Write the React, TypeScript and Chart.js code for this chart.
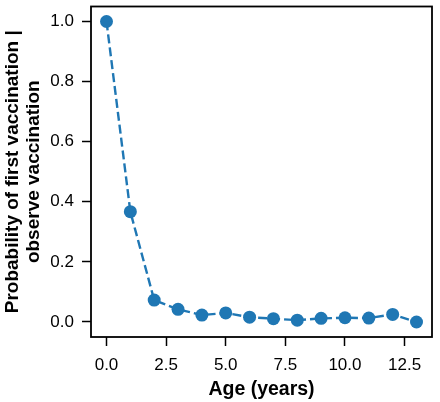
import React, { useEffect, useRef } from "react";
import { Chart, registerables } from "chart.js";

Chart.register(...registerables);

const ages = [0, 1, 2, 3, 4, 5, 6, 7, 8, 9, 10, 11, 12, 13];
const probabilities = [1.0, 0.367, 0.073, 0.042, 0.023, 0.03, 0.016, 0.011, 0.006, 0.012, 0.014, 0.013, 0.025, 0.0];
const xTicks = [0, 2.5, 5, 7.5, 10, 12.5];
const yTicks = [0, 0.2, 0.4, 0.6, 0.8, 1.0];
const xTitle = "Age (years)";
const yTitle = ["Probability of first vaccination |", "observe vaccination"];

const BLUE = "#1f77b4";
const FONT = "'Liberation Sans', Arial, sans-serif";

const framePlugin = {
  id: "frame",
  afterDatasetsDraw(chart: any) {
    const { ctx, chartArea } = chart;
    ctx.save();
    ctx.strokeStyle = "#000";
    ctx.lineWidth = 1.8;
    ctx.strokeRect(chartArea.left, chartArea.top, chartArea.right - chartArea.left, chartArea.bottom - chartArea.top);
    ctx.restore();
  },
};

export default function App() {
  const ref = useRef<HTMLCanvasElement | null>(null);
  useEffect(() => {
    if (!ref.current) return;
    const chart = new Chart(ref.current, {
      type: "scatter",
      data: {
        datasets: [
          {
            data: ages.map((a, i) => ({ x: a, y: probabilities[i] })),
            showLine: true,
            borderColor: BLUE,
            backgroundColor: BLUE,
            borderWidth: 2.4,
            borderDash: [9, 4],
            pointRadius: 6.5,
            pointHoverRadius: 6.5,
            pointBorderWidth: 0,
            clip: false as any,
          },
        ],
      },
      options: {
        animation: false,
        responsive: false,
        maintainAspectRatio: false,
        layout: { padding: { top: 2, right: 8, left: 0, bottom: 0 } },
        plugins: { legend: { display: false }, tooltip: { enabled: false } },
        scales: {
          x: {
            type: "linear",
            min: -0.65,
            max: 13.65,
            afterBuildTicks: (s: any) => {
              s.ticks = xTicks.map((v) => ({ value: v }));
            },
            afterFit: (s: any) => {
              s.height = 65;
              s.paddingLeft = 0;
              s.paddingRight = 0;
            },
            grid: { drawOnChartArea: false, tickLength: 9, tickWidth: 1.5, tickColor: "#000" },
            border: { display: false },
            ticks: {
              color: "#000",
              font: { family: FONT, size: 17 },
              padding: 9,
              maxRotation: 0,
              callback: (v: any) => Number(v).toFixed(1),
            },
            title: {
              display: true,
              text: xTitle,
              color: "#000",
              font: { family: FONT, size: 19.5, weight: "bold" },
              padding: { top: 0, bottom: 1 },
            },
          },
          y: {
            type: "linear",
            min: -0.05,
            max: 1.05,
            afterBuildTicks: (s: any) => {
              s.ticks = yTicks.map((v) => ({ value: v }));
            },
            afterFit: (s: any) => {
              s.width = 91;
              s.paddingTop = 0;
              s.paddingBottom = 0;
            },
            grid: { drawOnChartArea: false, tickLength: 9, tickWidth: 1.5, tickColor: "#000" },
            border: { display: false },
            ticks: {
              color: "#000",
              font: { family: FONT, size: 17 },
              padding: 8,
              callback: (v: any) => Number(v).toFixed(1),
            },
            title: {
              display: true,
              text: yTitle,
              color: "#000",
              font: { family: FONT, size: 19, weight: "bold", lineHeight: 1.08 },
              padding: { top: 3, bottom: 0 },
            },
          },
        },
      },
      plugins: [framePlugin],
    });
    return () => chart.destroy();
  }, []);
  return (
    <div style={{ position: "fixed", left: 0, top: 0, width: 440, height: 402, background: "#fff" }}>
      <canvas ref={ref} width={440} height={402} style={{ width: 440, height: 402 }} />
    </div>
  );
}
